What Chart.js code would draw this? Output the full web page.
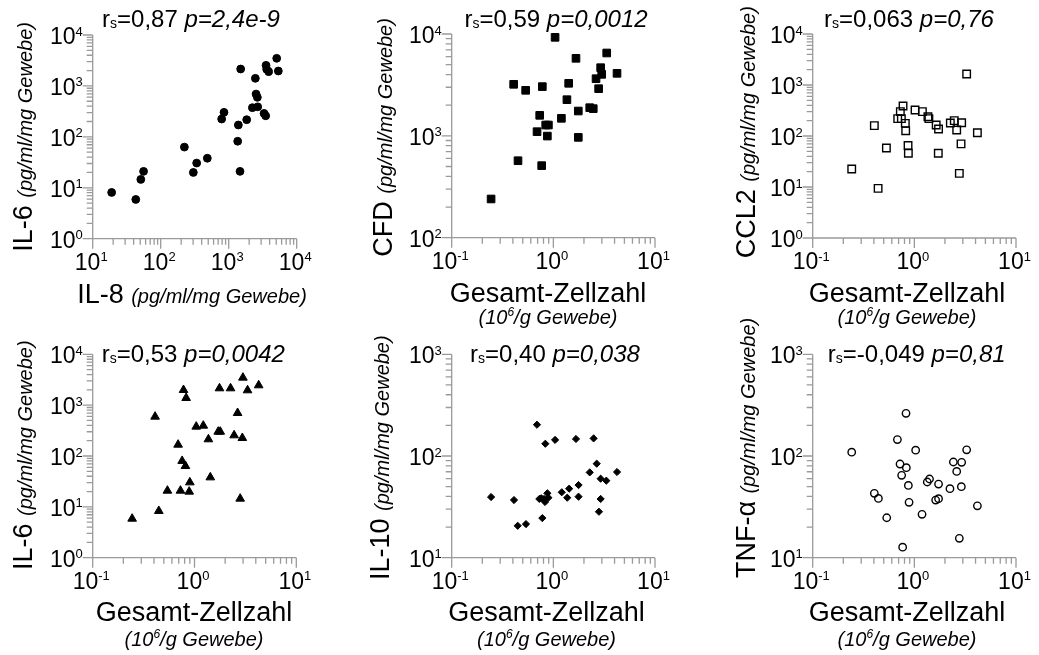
<!DOCTYPE html>
<html>
<head>
<meta charset="utf-8">
<script src="https://cdn.jsdelivr.net/npm/chart.js@4"></script>
<style>
html, body { margin: 0; padding: 0; background: #fff; width: 1039px; height: 655px; overflow: hidden; }
body { position: relative; }
canvas { position: absolute; }
</style>
</head>
<body>
<script>
// values
const il8 = [19, 43, 51, 56, 223, 302, 338, 485, 788, 853, 1356, 1387, 1468, 1500, 1840, 2230, 2466, 2525, 2640, 2670, 3310, 3500, 3540, 3620, 3870, 5080, 5370];
const il6VsIl8 = [8.1, 5.9, 14.6, 21, 63, 20, 30.6, 38, 224, 303, 82, 171, 21, 2150, 217, 374, 1410, 693, 597, 389, 289, 259, 2536, 2117, 1908, 3486, 1963];

const cellsCfd = [0.244, 0.407, 0.449, 0.534, 0.734, 0.691, 0.768, 0.779, 0.841, 0.894, 0.873, 1.04, 1.2, 1.36, 1.415, 1.67, 1.76, 1.76, 2.28, 2.47, 2.63, 2.79, 2.92, 2.99, 3.35, 4.23];
const cfd = [240, 3206, 570, 2800, 1590, 1099, 510, 3044, 1277, 1277, 995, 9270, 1486, 2265, 3280, 5770, 1753, 966, 1890, 1850, 3640, 2905, 4670, 4016, 6510, 4110];

const cellsCcl2 = [0.242, 0.404, 0.44, 0.531, 0.686, 0.728, 0.745, 0.774, 0.815, 0.822, 0.867, 0.873, 1.016, 1.2, 1.36, 1.39, 1.64, 1.73, 1.72, 2.26, 2.47, 2.61, 2.92, 2.88, 2.77, 3.27, 4.17];
const ccl2 = [22.5, 160, 9.4, 58, 219, 300, 219, 387, 177, 127, 65, 46, 324, 300, 239, 219, 164, 137, 46, 180, 200, 131, 182, 70, 18.5, 1644, 116];

const cellsIl6 = [0.244, 0.446, 0.41, 0.542, 0.69, 0.728, 0.756, 0.78, 0.828, 0.815, 0.887, 0.9, 1.04, 1.22, 1.37, 1.43, 1.71, 1.79, 1.76, 2.26, 2.45, 2.65, 2.81, 2.95, 2.99, 3.32, 4.27];
const il6 = [5.85, 8.3, 594, 20.8, 167, 20.8, 80, 1987, 1383, 63.5, 19.9, 30.3, 378, 395, 213, 38, 301, 301, 2143, 2143, 255, 701, 14.5, 226, 3475, 1958, 2455];

const cellsIl10 = [0.244, 0.41, 0.446, 0.538, 0.69, 0.728, 0.762, 0.779, 0.81, 0.834, 0.828, 0.873, 0.894, 1.04, 1.21, 1.37, 1.43, 1.67, 1.77, 1.77, 2.28, 2.49, 2.67, 2.81, 2.92, 2.92, 3.32, 4.23];
const il10 = [39.5, 36.9, 20.6, 21.4, 203, 37.8, 38.4, 24.5, 37.8, 132, 35.3, 43, 38.9, 144, 44, 38.9, 47.7, 147, 51.8, 39.8, 69, 149, 84, 28.3, 37.8, 59.8, 57.2, 69.6];

const cellsTnf = [0.242, 0.404, 0.443, 0.535, 0.681, 0.723, 0.75, 0.767, 0.828, 0.834, 0.873, 0.887, 1.03, 1.19, 1.34, 1.41, 1.62, 1.73, 1.73, 2.24, 2.42, 2.61, 2.77, 2.92, 2.9, 3.27, 4.17];
const tnf = [109, 43, 38.3, 24.7, 145, 83.4, 64.5, 12.7, 263, 76.8, 51.4, 35, 114, 26.7, 55.5, 59.4, 36.9, 38, 53, 47.7, 87.3, 70.6, 15.5, 86.7, 49.9, 115, 32.4];

// decade tick values
const ticksIl8 = [10, 100, 1000, 10000];
const ticksCells = [0.1, 1, 10];
const ticksY0to4 = [1, 10, 100, 1000, 10000];
const ticksY2to4 = [100, 1000, 10000];
const ticksY1to3 = [10, 100, 1000];

const FONT = '"Liberation Sans", Arial, Helvetica, sans-serif';
const AXIS = '#9a9a9a';
const UNIT = '(pg/ml/mg Gewebe)';

function font(size, italic) {
    return (italic ? 'italic ' : '') + size + 'px ' + FONT;
}

function runsWidth(ctx, runs) {
    let w = 0;
    runs.forEach(r => { ctx.font = r.f; w += ctx.measureText(r.t).width; });
    return w;
}

function drawRuns(ctx, runs, x, y) {
    runs.forEach(r => {
        ctx.font = r.f;
        ctx.fillText(r.t, x, y + (r.dy || 0));
        x += ctx.measureText(r.t).width;
    });
}

function powLabel(v) {
    const e = Math.round(Math.log10(v));
    return [{ t: '10', f: font(23) }, { t: String(e), f: font(13), dy: -8.5 }];
}

// cell = canvas box on the page; bottom row canvases reach up so their y titles are not cut
const panels = [
    { cell: [0, 0, 350, 328], area: [92.7, 35, 296.7, 238.7], x: il8, y: il6VsIl8, xt: ticksIl8, yt: ticksY0to4,
      style: 'circle', radius: 3.9, open: false, rs: '0,87', p: '2,4e-9', titleX: 191, titleY: 26.5,
      yMain: 'IL-6', yTitle: [32, 251.7], xOneLine: 'IL-8 ', xTitle: [192, 303] },
    { cell: [350, 0, 350, 328], area: [451.7, 34, 655, 237.7], x: cellsCfd, y: cfd, xt: ticksCells, yt: ticksY2to4,
      style: 'rect', radius: 5.4, open: false, rs: '0,59', p: '0,0012', titleX: 556, titleY: 26.5,
      yMain: 'CFD', yTitle: [391.5, 256.7], xTitle: [548, 301.7, 324] },
    { cell: [700, 0, 339, 328], area: [812.7, 34, 1016, 238], x: cellsCcl2, y: ccl2, xt: ticksCells, yt: ticksY0to4,
      style: 'rect', radius: 5.3, open: true, rs: '0,063', p: '0,76', titleX: 909, titleY: 26.5,
      yMain: 'CCL2', yTitle: [755, 258.3], xTitle: [907, 301.7, 324] },
    { cell: [0, 300, 350, 355], area: [92.7, 354.3, 296.3, 557.7], x: cellsIl6, y: il6, xt: ticksCells, yt: ticksY0to4,
      style: 'triangle', radius: 5, open: false, rs: '0,53', p: '0,0042', titleX: 193.3, titleY: 361.7,
      yMain: 'IL-6', yTitle: [32, 570], xTitle: [194, 621, 646] },
    { cell: [350, 300, 350, 355], area: [451.7, 354.3, 655, 557.7], x: cellsIl10, y: il10, xt: ticksCells, yt: ticksY1to3,
      style: 'rectRot', radius: 3.6, open: false, rs: '0,40', p: '0,038', titleX: 555, titleY: 361.7,
      yMain: 'IL-10', yTitle: [389, 580], xTitle: [546.5, 621, 646] },
    { cell: [700, 300, 339, 355], area: [812.7, 354.3, 1016, 557.7], x: cellsTnf, y: tnf, xt: ticksCells, yt: ticksY1to3,
      style: 'circle', radius: 3.7, open: true, rs: '-0,049', p: '0,81', titleX: 916.7, titleY: 361.7,
      yMain: 'TNF-\u03b1', yTitle: [755, 578], xTitle: [907, 621, 646] }
];

const panelPlugin = {
    id: 'panelAxes',
    afterDraw(chart, args, opts) {
        const p = opts.panel;
        const ctx = chart.ctx;
        const xs = chart.scales.x, ys = chart.scales.y;
        const a = chart.chartArea;
        const ox = p.cell[0], oy = p.cell[1];
        ctx.save();

        // axis lines and tick marks
        ctx.strokeStyle = AXIS;
        ctx.lineWidth = 1.3;
        ctx.beginPath();
        ctx.moveTo(a.left, a.top);
        ctx.lineTo(a.left, a.bottom);
        ctx.lineTo(a.right, a.bottom);
        p.xt.forEach((v, i) => {
            const px = xs.getPixelForValue(v);
            ctx.moveTo(px, a.bottom);
            ctx.lineTo(px, a.bottom + 10);
            if (i < p.xt.length - 1) {
                for (let k = 2; k <= 9; k++) {
                    const mx = xs.getPixelForValue(v * k);
                    ctx.moveTo(mx, a.bottom);
                    ctx.lineTo(mx, a.bottom + 6);
                }
            }
        });
        p.yt.forEach((v, i) => {
            const py = ys.getPixelForValue(v);
            ctx.moveTo(a.left, py);
            ctx.lineTo(a.left - 10, py);
            if (i < p.yt.length - 1) {
                for (let k = 2; k <= 9; k++) {
                    const my = ys.getPixelForValue(v * k);
                    ctx.moveTo(a.left, my);
                    ctx.lineTo(a.left - 6, my);
                }
            }
        });
        ctx.stroke();

        // tick labels
        ctx.fillStyle = '#000';
        ctx.textAlign = 'left';
        ctx.textBaseline = 'alphabetic';
        p.xt.forEach(v => {
            const runs = powLabel(v);
            const w = runsWidth(ctx, runs);
            drawRuns(ctx, runs, xs.getPixelForValue(v) - 1.5 - w / 2, a.bottom + 31);
        });
        p.yt.forEach(v => {
            const runs = powLabel(v);
            const w = runsWidth(ctx, runs);
            drawRuns(ctx, runs, a.left - 10 - w, ys.getPixelForValue(v) + 9);
        });

        // title with r_s and italic p
        const tRuns = [
            { t: 'r', f: font(24) },
            { t: 's', f: font(14), dy: 1 },
            { t: '=' + p.rs + ' ', f: font(24) },
            { t: 'p=' + p.p, f: font(24, true) }
        ];
        drawRuns(ctx, tRuns, p.titleX - ox - runsWidth(ctx, tRuns) / 2, p.titleY - oy);

        // x axis title
        if (p.xOneLine) {
            const r = [{ t: p.xOneLine, f: font(27) }, { t: UNIT, f: font(20, true) }];
            drawRuns(ctx, r, p.xTitle[0] - ox - runsWidth(ctx, r) / 2, p.xTitle[1] - oy);
        } else {
            const r1 = [{ t: 'Gesamt-Zellzahl', f: font(27) }];
            drawRuns(ctx, r1, p.xTitle[0] - ox - runsWidth(ctx, r1) / 2, p.xTitle[1] - oy);
            const r2 = [
                { t: '(10', f: font(20, true) },
                { t: '6', f: font(12, true), dy: -8 },
                { t: '/g Gewebe)', f: font(20, true) }
            ];
            drawRuns(ctx, r2, p.xTitle[0] - ox - runsWidth(ctx, r2) / 2, p.xTitle[2] - oy);
        }

        // y axis title, reading bottom to top
        ctx.translate(p.yTitle[0] - ox, p.yTitle[1] - oy);
        ctx.rotate(-Math.PI / 2);
        drawRuns(ctx, [{ t: p.yMain + ' ', f: font(27) }, { t: UNIT, f: font(20, true) }], 0, 0);
        ctx.restore();
    }
};

panels.forEach(p => {
    const [cx, cy, cw, ch] = p.cell;
    const [l, t, r, b] = p.area;
    const canvas = document.createElement('canvas');
    canvas.width = cw;
    canvas.height = ch;
    canvas.style.left = cx + 'px';
    canvas.style.top = cy + 'px';
    canvas.style.width = cw + 'px';
    canvas.style.height = ch + 'px';
    document.body.appendChild(canvas);

    new Chart(canvas.getContext('2d'), {
        type: 'scatter',
        data: {
            datasets: [{
                data: p.x.map((v, i) => ({ x: v, y: p.y[i] })),
                pointStyle: p.style,
                pointRadius: p.radius,
                pointBackgroundColor: p.open ? 'rgba(255,255,255,0)' : '#000',
                pointBorderColor: '#000',
                pointBorderWidth: p.open ? 1.4 : 1,
                clip: false
            }]
        },
        options: {
            responsive: false,
            animation: false,
            devicePixelRatio: 1,
            layout: { padding: { left: l - cx, top: t - cy, right: cx + cw - r, bottom: cy + ch - b } },
            plugins: {
                legend: { display: false },
                tooltip: { enabled: false },
                panelAxes: { panel: p }
            },
            scales: {
                x: { type: 'logarithmic', min: p.xt[0], max: p.xt[p.xt.length - 1], display: false },
                y: { type: 'logarithmic', min: p.yt[0], max: p.yt[p.yt.length - 1], display: false }
            }
        },
        plugins: [panelPlugin]
    });
});
</script>
</body>
</html>
